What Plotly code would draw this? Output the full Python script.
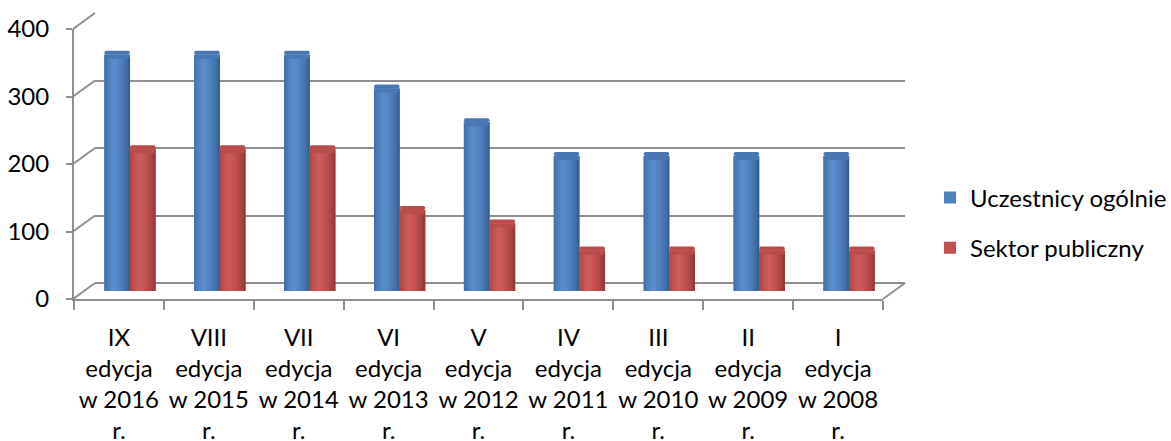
import plotly.graph_objects as go

# ---- data ----
editions = ["IX", "VIII", "VII", "VI", "V", "IV", "III", "II", "I"]
years = ["2016", "2015", "2014", "2013", "2012", "2011", "2010", "2009", "2008"]
categories = [f"{e}<br>edycja<br>w {y}<br>r." for e, y in zip(editions, years)]
uczestnicy = [350, 350, 350, 300, 250, 200, 200, 200, 200]
sektor = [210, 210, 210, 120, 100, 60, 60, 60, 60]
series_names = ["Uczestnicy ogólnie", "Sektor publiczny"]
y_ticks = [0, 100, 200, 300, 400]

W, H = 1171, 441
FONT = "Lato, Carlito, Calibri, sans-serif"
GRID = "#8E8E8E"


def px_x(p):
    return p / W


def px_y(p):
    return 1 - p / H


def hex2rgb(h):
    h = h.lstrip("#")
    return [int(h[k:k + 2], 16) for k in (0, 2, 4)]


def shade_at(stops, t):
    """piecewise-linear colour along the cylinder width (styling only)"""
    for (t0, c0), (t1, c1) in zip(stops[:-1], stops[1:]):
        if t0 <= t <= t1:
            f = (t - t0) / (t1 - t0) if t1 > t0 else 0
            a, b = hex2rgb(c0), hex2rgb(c1)
            return "rgb(%d,%d,%d)" % tuple(round(a[k] + (b[k] - a[k]) * f) for k in range(3))
    return stops[-1][1]


# pixel geometry of the pseudo-3D box
front = dict(x0=74, x1=883, y0=299, y1=29)   # y0 = value 0, y1 = value 400
back = dict(x0=95, x1=905, y0=283, y1=13)
mid = dict(x0=85, x1=894, y0=291, y1=21)

fig = go.Figure()

# back wall (axes x / y) - invisible anchor trace
fig.add_trace(go.Scatter(x=[0], y=[0], xaxis="x", yaxis="y", mode="markers",
                         marker=dict(opacity=0), showlegend=False, hoverinfo="skip"))
# front axes (x2 / y2) - categories
fig.add_trace(go.Scatter(x=categories, y=[0] * len(categories), xaxis="x2", yaxis="y2",
                         mode="markers", marker=dict(opacity=0), showlegend=False,
                         hoverinfo="skip"))

# cylinders (x3 / y3)
bw = 0.285
cap = 6  # half height of the elliptical cap, in data units
N_STRIPS = 12
styles = [
    dict(base="#4F81BD", cap="#4878B4", bottom="#4674AD",
         stops=[(0.0, "#3E6BA4"), (0.12, "#4A7CB8"), (0.35, "#5B8FCF"),
                (0.6, "#5083C0"), (0.85, "#4270A8"), (1.0, "#325785")]),
    dict(base="#C0504D", cap="#B94C49", bottom="#AC4542",
         stops=[(0.0, "#A84542"), (0.12, "#BB4F4C"), (0.35, "#D05E5B"),
                (0.6, "#C4524F"), (0.85, "#A94442"), (1.0, "#8A3533")]),
]
for i, (vals, name, st) in enumerate(zip([uczestnicy, sektor], series_names, styles)):
    off = -bw if i == 0 else 0.0
    # base body (legend entry)
    fig.add_trace(go.Bar(
        x=categories, y=vals, xaxis="x3", yaxis="y3",
        name=name, legendgroup=name, showlegend=True,
        offset=off, width=bw,
        marker=dict(color=st["base"], line=dict(width=0)),
        hoverinfo="skip",
    ))
    # shading strips
    sw = bw / N_STRIPS
    for k in range(N_STRIPS):
        t = (k + 0.5) / N_STRIPS
        fig.add_trace(go.Bar(
            x=categories, y=vals, xaxis="x3", yaxis="y3",
            name=name, legendgroup=name, showlegend=False,
            offset=off + k * sw, width=sw * 1.05,
            marker=dict(color=shade_at(st["stops"], t), line=dict(width=0)),
            hoverinfo="skip",
        ))
    # rounded bottom of the cylinder
    fig.add_trace(go.Bar(
        x=categories, y=[-cap] * len(vals), base=[0] * len(vals),
        xaxis="x3", yaxis="y3", name=name, legendgroup=name, showlegend=False,
        offset=off, width=bw,
        marker=dict(color=st["bottom"], line=dict(width=0), cornerradius=5),
        hoverinfo="skip",
    ))
    # elliptical top cap (upper and lower half)
    for sign in (1, -1):
        fig.add_trace(go.Bar(
            x=categories, y=[sign * cap] * len(vals), base=vals,
            xaxis="x3", yaxis="y3", name=name, legendgroup=name, showlegend=False,
            offset=off, width=bw,
            marker=dict(color=st["cap"], line=dict(width=0), cornerradius=5),
            hoverinfo="skip",
        ))

axis_hidden = dict(showgrid=False, zeroline=False, showline=False,
                   showticklabels=False, ticks="", automargin=False)

fig.update_layout(
    width=W, height=H,
    margin=dict(l=0, r=0, t=0, b=0, autoexpand=False),
    paper_bgcolor="white", plot_bgcolor="rgba(0,0,0,0)",
    barmode="overlay",
    font=dict(family=FONT, size=24, color="#000000"),
    # back wall
    xaxis=dict(domain=[px_x(back["x0"]), px_x(back["x1"])], anchor="y",
               range=[0, 1], **axis_hidden),
    yaxis=dict(domain=[px_y(back["y0"]), px_y(back["y1"])], anchor="x",
               range=[0, 400], tickvals=y_ticks, showgrid=True,
               gridcolor=GRID, gridwidth=2, zeroline=True,
               zerolinecolor=GRID, zerolinewidth=2, automargin=False,
               showline=False, showticklabels=False, ticks=""),
    # front axes
    xaxis2=dict(domain=[px_x(front["x0"]), px_x(front["x1"])], anchor="y2",
                type="category", categoryorder="array", categoryarray=categories,
                range=[-0.5, len(categories) - 0.5], automargin=False,
                showgrid=False, zeroline=False, showline=True,
                linecolor=GRID, linewidth=2, tickangle=0,
                ticks="outside", tickson="boundaries", ticklen=9,
                tickcolor=GRID, tickwidth=2, ticklabelstandoff=16,
                tickfont=dict(family=FONT, size=24, color="#000000")),
    yaxis2=dict(domain=[px_y(front["y0"]), px_y(front["y1"])], anchor="x2",
                range=[0, 400], tickvals=y_ticks, automargin=False,
                showgrid=False, zeroline=False, showline=True,
                linecolor=GRID, linewidth=2,
                ticks="outside", ticklen=6, tickcolor=GRID, tickwidth=2,
                ticklabelstandoff=12,
                tickfont=dict(family=FONT, size=24, color="#000000")),
    # bars
    xaxis3=dict(domain=[px_x(mid["x0"]), px_x(mid["x1"])], anchor="y3",
                type="category", categoryorder="array", categoryarray=categories,
                range=[-0.5, len(categories) - 0.5], **axis_hidden),
    yaxis3=dict(domain=[px_y(mid["y0"]), px_y(mid["y1"])], anchor="x3",
                range=[0, 400], **axis_hidden),
    legend=dict(x=px_x(930), y=px_y(223), xanchor="left", yanchor="middle",
                traceorder="grouped", tracegroupgap=16,
                font=dict(family=FONT, size=24, color="#000000"),
                bgcolor="rgba(0,0,0,0)", itemwidth=30),
    showlegend=True,
)

# side wall / floor edges connecting front axis to back wall
shapes = []
span_f = front["y0"] - front["y1"]
span_b = back["y0"] - back["y1"]
for v in y_ticks:
    yf = front["y0"] - span_f * v / 400
    yb = back["y0"] - span_b * v / 400
    shapes.append(dict(type="line", xref="paper", yref="paper",
                       x0=px_x(front["x0"] - 1), y0=px_y(yf),
                       x1=px_x(back["x0"]), y1=px_y(yb),
                       line=dict(color=GRID, width=2), layer="below"))
shapes.append(dict(type="line", xref="paper", yref="paper",
                   x0=px_x(front["x1"]), y0=px_y(front["y0"]),
                   x1=px_x(back["x1"]), y1=px_y(back["y0"]),
                   line=dict(color=GRID, width=2), layer="below"))
fig.update_layout(shapes=shapes)

fig.write_html(
    "out.html",
    config={"displayModeBar": False},
    post_script="document.body.style.margin='0px';document.body.style.overflow='hidden';",
)
